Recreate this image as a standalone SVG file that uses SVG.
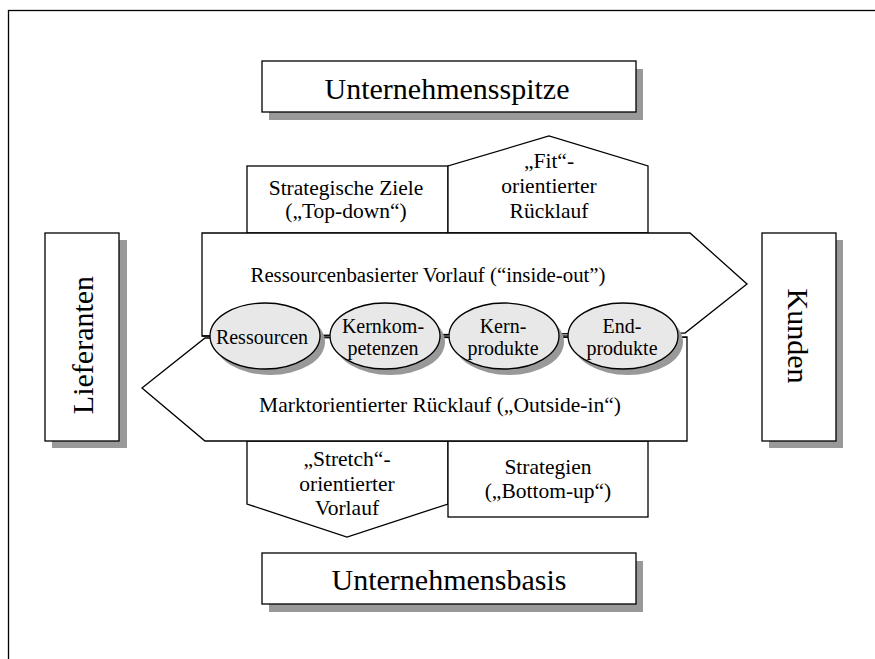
<svg xmlns="http://www.w3.org/2000/svg" width="875" height="659" viewBox="0 0 875 659">
  <style>
    .box { fill: #ffffff; stroke: #000000; stroke-width: 1.3; }
    .shadow { fill: #999999; }
    .shape { fill: #ffffff; stroke: #000000; stroke-width: 1.3; }
    .ell { fill: #e8e8e8; stroke: #000000; stroke-width: 1.3; }
    .t { font-family: "Liberation Serif", "Times New Roman", serif; fill: #000000; text-anchor: middle; }
    .big { font-size: 30px; }
    .mid { font-size: 21.5px; }
    .small { font-size: 20px; }
  </style>

  <rect x="0" y="0" width="875" height="659" fill="#ffffff"/>
  <!-- outer frame -->
  <rect x="8.5" y="10.5" width="880" height="660" fill="none" stroke="#000000" stroke-width="1.3"/>

  <!-- upper band boxes -->
  <g id="strategische-ziele">
    <rect class="shape" x="247" y="166" width="201" height="67"/>
    <text class="t mid" x="346" y="195">Strategische Ziele</text>
    <text class="t mid" x="346" y="218">(„Top-down“)</text>
  </g>
  <g id="fit-ruecklauf">
    <polygon class="shape" points="448,233 448,166 549,136 648,166 648,233"/>
    <text class="t mid" x="549" y="168">„Fit“-</text>
    <text class="t mid" x="549" y="193">orientierter</text>
    <text class="t mid" x="549" y="218">Rücklauf</text>
  </g>

  <!-- lower band boxes -->
  <g id="stretch-vorlauf">
    <polygon class="shape" points="247,441 448,441 448,504 347,537 247,504"/>
    <text class="t mid" x="347" y="466">„Stretch“-</text>
    <text class="t mid" x="347" y="491">orientierter</text>
    <text class="t mid" x="347" y="515">Vorlauf</text>
  </g>
  <g id="strategien">
    <rect class="shape" x="448" y="441" width="200" height="76"/>
    <text class="t mid" x="548" y="474">Strategien</text>
    <text class="t mid" x="548" y="498">(„Bottom-up“)</text>
  </g>

  <!-- central arrows -->
  <g id="inside-out">
    <polygon class="shape" points="202,336 202,233 690,233 747,284 685,333 202,336"/>
    <text class="t mid" x="428" y="282" style="font-size:20.8px">Ressourcenbasierter Vorlauf (“inside-out”)</text>
  </g>
  <g id="outside-in">
    <polygon class="shape" points="687,337 687,441 205,441 142,388 205,338"/>
    <text class="t mid" x="440" y="412">Marktorientierter Rücklauf („Outside-in“)</text>
  </g>

  <!-- chain connectors -->
  <g id="connectors" stroke="#000000" stroke-width="1.3">
    <line x1="202" y1="336" x2="210" y2="336"/>
    <line x1="321" y1="336" x2="329" y2="336"/>
    <line x1="440" y1="336" x2="448" y2="336"/>
    <line x1="559" y1="336" x2="568" y2="336"/>
  </g>

  <!-- competence chain -->
  <g id="ressourcen">
    <ellipse class="shadow" cx="270" cy="342" rx="55" ry="33"/>
    <ellipse class="ell" cx="265" cy="336" rx="55" ry="33"/>
    <text class="t small" x="262" y="344">Ressourcen</text>
  </g>
  <g id="kernkompetenzen">
    <ellipse class="shadow" cx="390" cy="342" rx="55" ry="33"/>
    <ellipse class="ell" cx="385" cy="336" rx="55" ry="33"/>
    <text class="t small" x="383" y="333">Kernkom-</text>
    <text class="t small" x="383" y="355">petenzen</text>
  </g>
  <g id="kernprodukte">
    <ellipse class="shadow" cx="509" cy="342" rx="55" ry="33"/>
    <ellipse class="ell" cx="504" cy="336" rx="55" ry="33"/>
    <text class="t small" x="503" y="333">Kern-</text>
    <text class="t small" x="503" y="355">produkte</text>
  </g>
  <g id="endprodukte">
    <ellipse class="shadow" cx="628" cy="342" rx="55" ry="33"/>
    <ellipse class="ell" cx="623" cy="336" rx="55" ry="33"/>
    <text class="t small" x="622" y="333">End-</text>
    <text class="t small" x="622" y="355">produkte</text>
  </g>

  <!-- outer actors -->
  <g id="unternehmensspitze">
    <rect class="shadow" x="269" y="69" width="374" height="51"/>
    <rect class="box" x="262" y="61" width="374" height="51"/>
    <text class="t big" x="447" y="99">Unternehmensspitze</text>
  </g>
  <g id="unternehmensbasis">
    <rect class="shadow" x="269" y="561" width="374" height="51"/>
    <rect class="box" x="262" y="553" width="374" height="51"/>
    <text class="t big" x="449" y="590">Unternehmensbasis</text>
  </g>
  <g id="lieferanten">
    <rect class="shadow" x="52" y="240" width="75" height="208"/>
    <rect class="box" x="45" y="233" width="74" height="208"/>
    <text class="t big" transform="translate(93,345) rotate(-90)">Lieferanten</text>
  </g>
  <g id="kunden">
    <rect class="shadow" x="769" y="240" width="74" height="208"/>
    <rect class="box" x="762" y="233" width="74" height="208"/>
    <text class="t big" transform="translate(788,336) rotate(90)">Kunden</text>
  </g>
</svg>
